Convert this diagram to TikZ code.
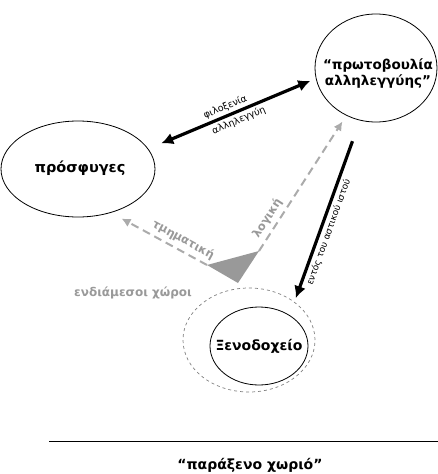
\documentclass[tikz,border=0pt]{standalone}
\usepackage{fontspec}
\setmainfont{DejaVu Sans}
\usetikzlibrary{shapes.geometric,arrows.meta}
\definecolor{midgray}{HTML}{999999}
\definecolor{dashgray}{HTML}{ABABAB}

\begin{document}
\begin{tikzpicture}[x=1pt,y=-1pt,
    place/.style={draw, ellipse, line width=0.8pt, inner sep=0pt},
    title/.style={font=\bfseries\fontsize{14}{16}\selectfont, align=center},
    link/.style={line width=3.2pt, black},
    grayline/.style={line width=2pt, dashgray, dash pattern=on 8pt off 5pt, -{Latex[length=9pt,width=9pt]}},
    small/.style={font=\fontsize{9.5}{11}\selectfont, inner sep=1.5pt},
    graytext/.style={font=\bfseries\fontsize{11.5}{13}\selectfont, text=midgray, inner sep=1pt}]
      \useasboundingbox (0,0) rectangle (438,474);

      % Draw the three places
      \node[place, minimum width=154pt, minimum height=96pt] (prosfyges) at (78,169) {};
      \node[title, font=\bfseries\fontsize{14.5}{16}\selectfont] (prosfyges-text) at (80,168) {πρόσφυγες};
      \node[place, minimum width=122pt, minimum height=108pt] (protovoulia) at (376,68) {};
      \node[title, font=\bfseries\fontsize{13.5}{16}\selectfont] (protovoulia-text) at (378,74) {“πρωτοβουλία\\αλληλεγγύης”};
      \node[place, minimum width=98pt, minimum height=78pt] (xenodocheio) at (259,346) {};
      \node[title] (xenodocheio-text) at (xenodocheio) {Ξενοδοχείο};

      % Draw the dashed ring round the hotel
      \node[draw, ellipse, gray, dashed, line width=0.7pt, minimum width=132pt, minimum height=104pt] (endiamesoi) at (249,340) {};
      \node[graytext, font=\bfseries\fontsize{12}{14}\selectfont] (endiamesoi-text) at (133,293) {ενδιάμεσοι χώροι};

      % Draw the gray triangle
      \coordinate (tri-left) at (207,265);
      \coordinate (tri-right) at (259,251);
      \coordinate (tri-bottom) at (238,283);
      \fill[midgray] (tri-left) -- (tri-right) -- (tri-bottom) -- cycle;

      % Draw the black arrows
      \draw[link, {Latex[length=12pt,width=12pt]}-{Latex[length=12pt,width=12pt]}, shorten <=14pt, shorten >=6pt]
        (prosfyges.16) -- (protovoulia.190)
        node[pos=.48, sloped, above=1pt, small] (filoxenia) {φιλοξενία}
        node[pos=.52, sloped, below=1pt, small] (allileggyi) {αλληλεγγύη};
      \draw[link, -{Latex[length=12pt,width=12pt]}, shorten <=22pt, shorten >=4pt]
        (protovoulia.253) -- (endiamesoi.40)
        node[pos=.6, sloped, below=1pt, small, font=\fontsize{9}{11}\selectfont] (entos) {εντός του αστικού ιστού};

      % Draw the gray dashed arrows
      \draw[grayline, shorten >=12pt] (tri-left) -- (prosfyges.307)
        node[pos=.3, sloped, above=3pt, graytext] (tmimatiki) {τμηματική};
      \draw[grayline, shorten >=7pt] (tri-right) -- (protovoulia.238)
        node[pos=.2, sloped, above=3pt, graytext] (logiki) {λογική};

      % Draw the base line and its name
      \coordinate (base-left) at (49,441);
      \coordinate (base-right) at (438,441);
      \draw[line width=1pt] (base-left) -- (base-right);
      \node[title] (chorio) at (250,465) {“παράξενο χωριό”};
    \end{tikzpicture}
\end{document}
